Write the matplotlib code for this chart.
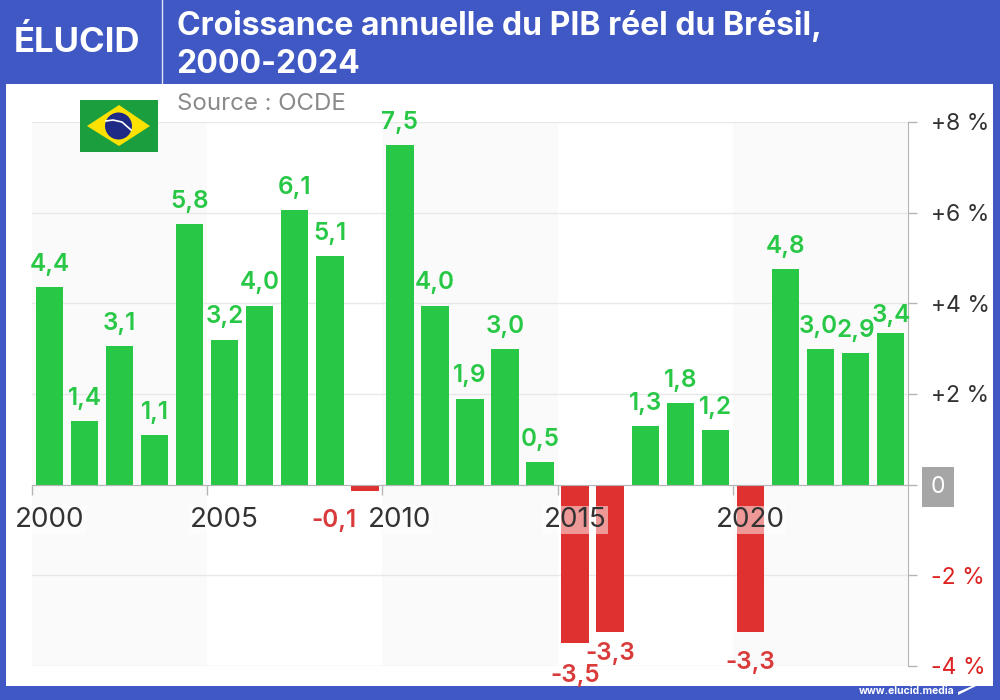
import matplotlib
matplotlib.use('Agg')
import matplotlib.pyplot as plt
from matplotlib.patches import Rectangle, Polygon, Circle

plt.rcParams['font.family'] = ['Inter', 'DejaVu Sans']

years = list(range(2000, 2025))
growth = [4.35, 1.4, 3.05, 1.1, 5.75, 3.2, 3.95, 6.05, 5.05, -0.13, 7.5, 3.95, 1.9, 3.0, 0.5,
          -3.5, -3.25, 1.3, 1.8, 1.2, -3.25, 4.75, 3.0, 2.9, 3.35]
labels = ["4,4", "1,4", "3,1", "1,1", "5,8", "3,2", "4,0", "6,1", "5,1", "-0,1", "7,5", "4,0", "1,9", "3,0", "0,5",
          "-3,5", "-3,3", "1,3", "1,8", "1,2", "-3,3", "4,8", "3,0", "2,9", "3,4"]
year_labels = [2000, 2005, 2010, 2015, 2020]
y_ticks = [-4, -2, 0, 2, 4, 6, 8]
y_tick_labels = ["-4 %", "-2 %", "0", "+2 %", "+4 %", "+6 %", "+8 %"]

BLUE = "#3f58c4"
GREEN = "#28c846"
RED = "#e03131"
DARK = "#333333"

fig = plt.figure(figsize=(10, 7), dpi=100)
fig.patch.set_facecolor(BLUE)

# white panel behind the chart
bg = fig.add_axes([0, 0, 1, 1], zorder=0)
bg.set_xlim(0, 1000)
bg.set_ylim(700, 0)
bg.axis('off')
bg.add_patch(Rectangle((6, 84), 987, 602, color="white", lw=0))

ax = fig.add_axes([0.032, 34 / 700, 0.876, 544 / 700], zorder=1)
ax.patch.set_alpha(0)
ax.set_xlim(-0.5, 24.5)
ax.set_ylim(-4, 8)

# shaded 5 year bands
for start in [2000, 2010, 2020]:
    ax.axvspan(start - 2000 - 0.5, start - 2000 + 4.5, color="#fafafa", lw=0, zorder=0)
ax.grid(axis='y', color="#e8e8e8", lw=1, zorder=1)
ax.set_axisbelow(True)

x = [y - 2000 for y in years]
colors = [GREEN if v >= 0 else RED for v in growth]
ax.bar(x, growth, width=0.78, color=colors, zorder=2)

# a few labels were moved by hand in the original to avoid collisions (dx, dy in points)
nudges = {9: (-22, -6.5), 15: (0, -8), 20: (0, -7), 22: (-1.5, 0), 23: (0.5, 0), 24: (1, -4)}
for i, (v, lab) in enumerate(zip(growth, labels)):
    dx, dy = nudges.get(i, (0, 0))
    if v >= 0:
        ax.annotate(lab, (i, v), xytext=(dx, 8 + dy), textcoords='offset points', ha='center', va='bottom',
                    color=GREEN, fontsize=17.5, fontweight='semibold', zorder=5)
    else:
        ax.annotate(lab, (i, v), xytext=(dx, -7 + dy), textcoords='offset points', ha='center', va='top',
                    color="#d93a3a", fontsize=17.5, fontweight='semibold', zorder=5)

for yr in year_labels:
    ax.text(yr - 2000, -0.78, str(yr), ha='center', va='center', fontsize=20, color=DARK, zorder=6,
            bbox=dict(facecolor="white", alpha=0.5, edgecolor='none', pad=1))

for s in ['top', 'left']:
    ax.spines[s].set_visible(False)
ax.spines['bottom'].set_position(('data', 0))
ax.spines['bottom'].set_color("#b5b5b5")
ax.spines['right'].set_color("#b5b5b5")

ax.set_xticks([y - 2000 - 0.5 for y in year_labels])
ax.set_xticklabels([])
ax.tick_params(axis='x', length=7, color="#b5b5b5", width=1)
ax.yaxis.tick_right()
ax.set_yticks(y_ticks)
ax.set_yticklabels(y_tick_labels)
ax.tick_params(axis='y', length=6.5, color="#b5b5b5", width=1, pad=10, labelsize=16.5)
for t, v in zip(ax.get_yticklabels(), y_ticks):
    if v < 0:
        t.set_color("#dd2222")
    elif v == 0:
        t.set_color("white")
        t.set_bbox(dict(facecolor="#a6a6a6", edgecolor='none', pad=6.5))
    else:
        t.set_color(DARK)

# header, flag and footer, in pixel coordinates
top = fig.add_axes([0, 0, 1, 1], zorder=3)
top.set_xlim(0, 1000)
top.set_ylim(700, 0)
top.axis('off')
top.patch.set_alpha(0)

top.plot([162, 162], [0, 84], color="white", lw=1, alpha=0.85)
top.text(14, 42, "ÉLUCID", color="white", fontsize=25, fontweight='bold', va='center', ha='left')
top.text(177, 35, "Croissance annuelle du PIB réel du Brésil,", color="white", fontsize=23, fontweight='bold',
         va='baseline')
top.text(176, 73, "2000-2024", color="white", fontsize=23, fontweight='bold', va='baseline')
top.text(177, 110, "Source : OCDE", color="#8a8a8a", fontsize=17.3, va='baseline')

top.add_patch(Rectangle((80, 100), 78, 52, color="#1b9e3e", lw=0))
top.add_patch(Polygon([(87, 126), (119, 105), (150, 126), (119, 146)], color="#fde100", lw=0))
top.add_patch(Circle((118.5, 126), 13.5, color="#1f2a86", lw=0))
top.plot([106, 113, 122, 131], [121, 120, 122, 130], color="white", lw=1.2)

top.text(955, 691, "www.elucid.media", color="white", fontsize=7.5, fontweight='bold', ha='right', va='center')
top.add_patch(Polygon([(958, 684), (977, 679), (976, 686), (958, 695)], color="white", lw=0))
top.add_patch(Polygon([(958, 686), (972, 686), (958, 692)], color=BLUE, lw=0))

plt.savefig("out.png", dpi=100, facecolor=fig.get_facecolor())
